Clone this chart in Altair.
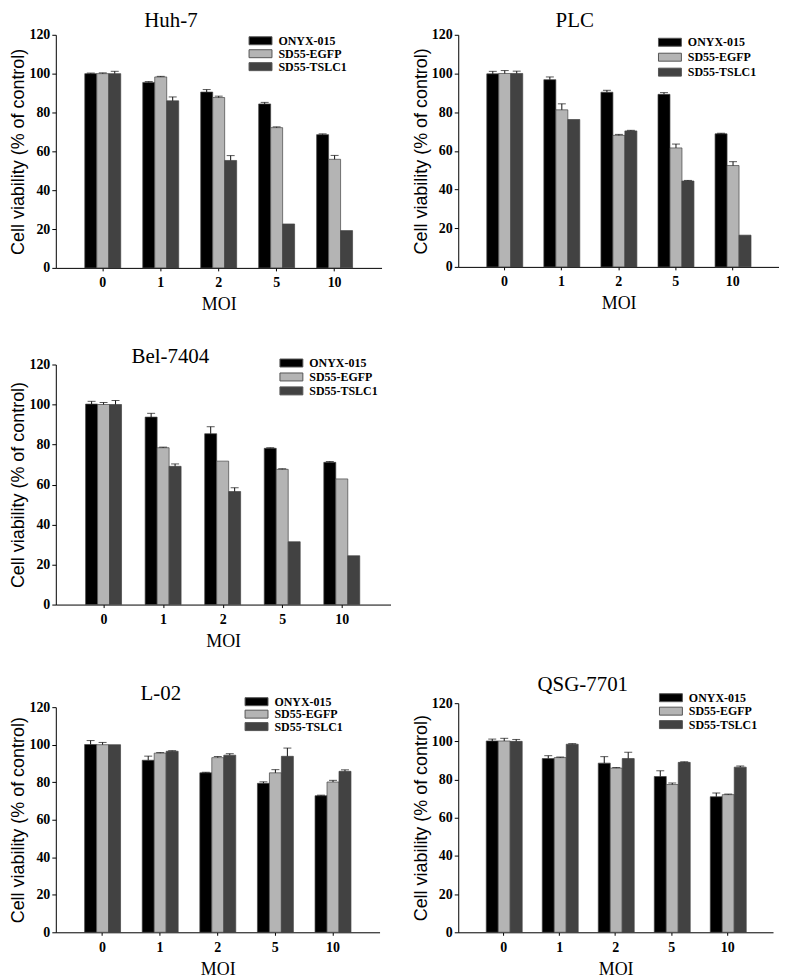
"""Cell viability after infection: five cell lines, three viruses, five MOIs."""

import altair as alt
import pandas as pd

SERIF = "Liberation Serif"
SANS = "Liberation Sans"

MOI = ["0", "1", "2", "5", "10"]
SERIES = ["ONYX-015", "SD55-EGFP", "SD55-TSLC1"]
COLORS = ["#000000", "#b4b4b4", "#424242"]
X_TITLE = "MOI"
Y_TITLE = "Cell viability (% of control)"

# values are % of control; errors are the upper bar lengths
HUH7_ONYX = [100.0, 95.5, 90.5, 84.4, 68.6]
HUH7_ONYX_ERR = [0.3, 0.4, 1.3, 0.8, 0.4]
HUH7_EGFP = [100.0, 98.3, 87.7, 72.2, 55.9]
HUH7_EGFP_ERR = [0.4, 0.3, 0.7, 0.4, 2.0]
HUH7_TSLC1 = [100.0, 86.0, 55.3, 22.6, 19.2]
HUH7_TSLC1_ERR = [1.2, 2.0, 2.5, 0.0, 0.0]

PLC_ONYX = [99.8, 96.8, 90.3, 89.2, 68.8]
PLC_ONYX_ERR = [1.3, 1.4, 1.0, 0.9, 0.3]
PLC_EGFP = [100.0, 81.2, 68.0, 61.5, 52.4]
PLC_EGFP_ERR = [1.5, 3.1, 0.5, 2.0, 2.0]
PLC_TSLC1 = [100.0, 76.2, 70.3, 44.4, 16.4]
PLC_TSLC1_ERR = [1.2, 0.0, 0.3, 0.3, 0.0]

BEL_ONYX = [100.2, 93.7, 85.4, 78.1, 71.1]
BEL_ONYX_ERR = [1.4, 1.9, 3.5, 0.3, 0.4]
BEL_EGFP = [100.0, 78.4, 71.7, 67.6, 62.8]
BEL_EGFP_ERR = [1.0, 0.3, 0.0, 0.3, 0.0]
BEL_TSLC1 = [100.0, 69.1, 56.5, 31.4, 24.4]
BEL_TSLC1_ERR = [2.0, 1.2, 1.9, 0.0, 0.0]

L02_ONYX = [100.1, 91.7, 85.0, 79.4, 72.8]
L02_ONYX_ERR = [2.1, 2.2, 0.3, 0.8, 0.3]
L02_EGFP = [100.0, 95.5, 93.1, 85.0, 80.1]
L02_EGFP_ERR = [1.2, 0.3, 0.6, 1.7, 0.9]
L02_TSLC1 = [100.0, 96.5, 94.4, 93.8, 85.8]
L02_TSLC1_ERR = [0.0, 0.3, 0.8, 4.4, 0.8]

QSG_ONYX = [100.2, 91.0, 88.6, 81.6, 71.0]
QSG_ONYX_ERR = [1.0, 1.5, 3.4, 3.0, 2.0]
QSG_EGFP = [100.2, 91.5, 86.0, 77.4, 72.1]
QSG_EGFP_ERR = [1.4, 0.3, 0.3, 0.8, 0.3]
QSG_TSLC1 = [100.0, 98.5, 91.0, 89.0, 86.5]
QSG_TSLC1_ERR = [1.0, 0.3, 3.3, 0.3, 0.6]

# wide legend swatch: 8px tall box (symbolSize 64) stretched to 23px
BAR_SHAPE = "M-2.875,-1L2.875,-1L2.875,1L-2.875,1Z"


def panel_frame(values, errors):
    rows = []
    for series, vals, errs in zip(SERIES, values, errors):
        for moi, v, e in zip(MOI, vals, errs):
            rows.append({"moi": moi, "series": series, "value": v, "err": e, "top": v + e})
    return pd.DataFrame(rows)


def make_panel(name, values, errors, width, height, title_dx, title_offset, legend_x, legend_y, row_gap):
    df = panel_frame(values, errors)
    err_df = df[df["err"] > 0]

    x_scale = alt.Scale(paddingInner=0.38, paddingOuter=0.5)
    off_scale = alt.Scale(paddingInner=0, paddingOuter=0)
    y_scale = alt.Scale(domain=[0, 120], nice=False)
    x_enc = alt.X(
        "moi:N",
        sort=MOI,
        scale=x_scale,
        title=X_TITLE,
        axis=alt.Axis(
            labelAngle=0, tickSize=3, labelPadding=5, titlePadding=6,
            labelFontSize=14, labelFontWeight="bold", titleFontSize=18, titleFontWeight="normal",
        ),
    )
    off_enc = alt.XOffset("series:N", sort=SERIES, scale=off_scale)
    y_axis = alt.Axis(
        values=[0, 20, 40, 60, 80, 100, 120],
        tickSize=4, labelPadding=2, titlePadding=1, labelFontSize=14, labelFontWeight="bold",
        titleFont=SANS, titleFontSize=18, titleFontWeight="normal",
    )

    bars = (
        alt.Chart(df)
        .mark_bar(stroke="#444444", strokeWidth=0.7)
        .encode(
            x=x_enc,
            xOffset=off_enc,
            y=alt.Y("value:Q", scale=y_scale, title=Y_TITLE, axis=y_axis),
            color=alt.Color(
                "series:N",
                sort=SERIES,
                scale=alt.Scale(domain=SERIES, range=COLORS),
                legend=alt.Legend(
                    title=None, orient="none", legendX=legend_x, legendY=legend_y, padding=0,
                    symbolType=BAR_SHAPE, symbolSize=64, symbolStrokeColor="#555555",
                    symbolStrokeWidth=1, symbolOpacity=1, labelFont=SERIF, labelFontSize=12,
                    labelFontWeight="bold", labelOffset=12, rowPadding=row_gap,
                ),
            ),
        )
    )

    stems = (
        alt.Chart(err_df)
        .mark_rule(color="#111111", strokeWidth=1)
        .encode(
            x=x_enc,
            xOffset=off_enc,
            y=alt.Y("value:Q", scale=y_scale, title=Y_TITLE, axis=y_axis),
            y2="top:Q",
        )
    )

    caps = (
        alt.Chart(err_df)
        .mark_tick(color="#111111", thickness=1, size=8)
        .encode(
            x=x_enc,
            xOffset=off_enc,
            y=alt.Y("top:Q", scale=y_scale, title=Y_TITLE, axis=y_axis),
        )
    )

    return alt.layer(bars, stems, caps).properties(
        width=width,
        height=height,
        title=alt.TitleParams(name, frame="group", anchor="middle", dx=title_dx, offset=title_offset),
    )


huh7 = make_panel(
    "Huh-7",
    [HUH7_ONYX, HUH7_EGFP, HUH7_TSLC1], [HUH7_ONYX_ERR, HUH7_EGFP_ERR, HUH7_TSLC1_ERR],
    327, 234, -48, -3, 199.5, 0, 1,
)
plc = make_panel(
    "PLC",
    [PLC_ONYX, PLC_EGFP, PLC_TSLC1], [PLC_ONYX_ERR, PLC_EGFP_ERR, PLC_TSLC1_ERR],
    322, 233, -44, -3, 206.5, 1.5, 3,
)
bel = make_panel(
    "Bel-7404",
    [BEL_ONYX, BEL_EGFP, BEL_TSLC1], [BEL_ONYX_ERR, BEL_EGFP_ERR, BEL_TSLC1_ERR],
    336, 241, -53, -10, 230.5, -7.5, 2,
)
l02 = make_panel(
    "L-02",
    [L02_ONYX, L02_EGFP, L02_TSLC1], [L02_ONYX_ERR, L02_EGFP_ERR, L02_TSLC1_ERR],
    325, 226, -57, -8, 195.5, -11.5, 0.5,
)
qsg = make_panel(
    "QSG-7701",
    [QSG_ONYX, QSG_EGFP, QSG_TSLC1], [QSG_ONYX_ERR, QSG_EGFP_ERR, QSG_TSLC1_ERR],
    316, 230, -33, -3, 207.5, -11.5, 1.5,
)

left = alt.vconcat(huh7, bel, l02, spacing=32).resolve_scale(color="independent").resolve_legend(color="independent")
right = alt.vconcat(plc, qsg, spacing=362).resolve_scale(color="independent").resolve_legend(color="independent")

chart = (
    alt.hconcat(left, right, spacing=22)
    .resolve_scale(color="independent")
    .resolve_legend(color="independent")
    .properties(padding={"left": 2, "top": 0, "right": 0, "bottom": 0}, background="white")
    .configure_view(strokeWidth=0)
    .configure_axis(
        grid=False, domainColor="black", tickColor="black", labelColor="black", titleColor="black",
        labelFont=SERIF, titleFont=SERIF, domainWidth=1,
    )
    .configure_title(font=SERIF, fontSize=21, fontWeight="normal", color="black")
)

chart.save("out.html", embed_options={"renderer": "svg", "actions": False})
